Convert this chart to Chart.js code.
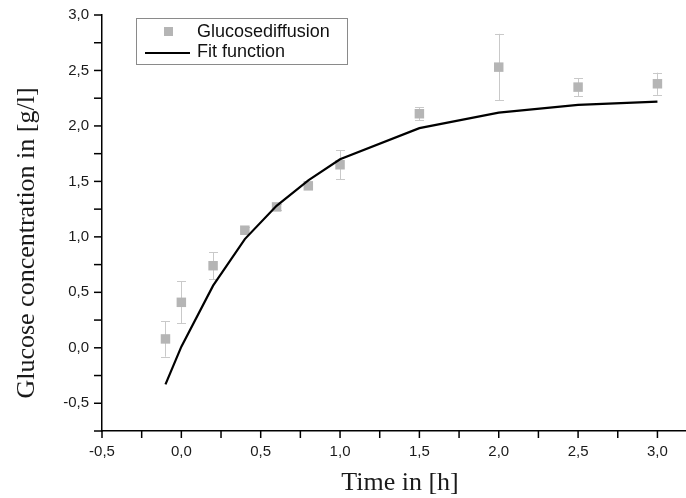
<!DOCTYPE html>
<html><head><meta charset="utf-8">
<script src="https://cdn.jsdelivr.net/npm/chart.js@4.4.0/dist/chart.umd.min.js"></script>
<style>html,body{margin:0;padding:0;background:#fff}</style>
</head><body>
<canvas id="c" width="686" height="498"></canvas>
<script>
// ---- data ----
const timeH      = [-0.1, 0.0, 0.2, 0.4, 0.6, 0.8, 1.0, 1.5, 2.0, 2.5, 3.0];
const glucose    = [0.08, 0.41, 0.74, 1.06, 1.27, 1.46, 1.65, 2.11, 2.53, 2.35, 2.38];
const glucoseErr = [0.16, 0.19, 0.12, 0.03, 0.03, 0.03, 0.13, 0.06, 0.30, 0.08, 0.10];
const fitTime    = [-0.1, 0.0, 0.2, 0.4, 0.6, 0.8, 1.0, 1.5, 2.0, 2.5, 3.0];
const fitValues  = [-0.33, 0.01, 0.56, 0.98, 1.28, 1.51, 1.70, 1.98, 2.12, 2.19, 2.22];
const xTickValues = [-0.5, 0.0, 0.5, 1.0, 1.5, 2.0, 2.5, 3.0];
const xTickLabels = ['-0,5','0,0','0,5','1,0','1,5','2,0','2,5','3,0'];
const yTickValues = [-0.5, 0.0, 0.5, 1.0, 1.5, 2.0, 2.5, 3.0];
const yTickLabels = ['-0,5','0,0','0,5','1,0','1,5','2,0','2,5','3,0'];
const seriesNames = ['Glucosediffusion', 'Fit function'];
const xTitle = 'Time in [h]';
const yTitle = 'Glucose concentration in [g/l]';

const near = (a, b) => Math.abs(a - b) < 1e-6;
const isQuarter = v => near(v * 4, Math.round(v * 4));
function labelFor(values, labels, v) {
  const i = values.findIndex(t => near(t, v));
  return i >= 0 ? labels[i] : '';
}

const pointColor = '#b5b5b5';
const errColor = '#c9c9c9';

const errorBars = {
  id: 'errorBars',
  beforeDatasetsDraw(chart) {
    const ctx = chart.ctx, xs = chart.scales.x, ys = chart.scales.y;
    ctx.save();
    ctx.strokeStyle = errColor; ctx.lineWidth = 1;
    timeH.forEach((t, i) => {
      const x = Math.round(xs.getPixelForValue(t)) + 0.5;
      const y1 = ys.getPixelForValue(glucose[i] + glucoseErr[i]);
      const y2 = ys.getPixelForValue(glucose[i] - glucoseErr[i]);
      ctx.beginPath();
      ctx.moveTo(x, y1); ctx.lineTo(x, y2);
      ctx.moveTo(x - 4.5, Math.round(y1) + 0.5); ctx.lineTo(x + 4.5, Math.round(y1) + 0.5);
      ctx.moveTo(x - 4.5, Math.round(y2) + 0.5); ctx.lineTo(x + 4.5, Math.round(y2) + 0.5);
      ctx.stroke();
    });
    ctx.restore();
  }
};

const tickMarks = {
  id: 'tickMarks',
  afterDraw(chart) {
    const ctx = chart.ctx, xs = chart.scales.x, ys = chart.scales.y, a = chart.chartArea;
    ctx.save();
    ctx.strokeStyle = '#000'; ctx.lineWidth = 1.5;
    xs.ticks.forEach(t => {
      const x = xs.getPixelForValue(t.value);
      const len = isQuarter(t.value * 2) ? 7 : 4;
      ctx.beginPath(); ctx.moveTo(x, a.bottom); ctx.lineTo(x, a.bottom + len); ctx.stroke();
    });
    ys.ticks.forEach(t => {
      const y = ys.getPixelForValue(t.value);
      const len = isQuarter(t.value * 2) ? 8 : 4;
      ctx.beginPath(); ctx.moveTo(a.left, y); ctx.lineTo(a.left - len, y); ctx.stroke();
    });
    ctx.restore();
  }
};

const titles = {
  id: 'titles',
  afterDraw(chart) {
    const ctx = chart.ctx;
    ctx.save();
    ctx.fillStyle = '#1a1a1a';
    ctx.font = '26px "Liberation Serif", "DejaVu Serif", serif';
    ctx.textAlign = 'center'; ctx.textBaseline = 'middle';
    ctx.fillText(xTitle, 400, 483);
    ctx.translate(27, 243);
    ctx.rotate(-Math.PI / 2);
    ctx.fillText(yTitle, 0, 0);
    ctx.restore();
  }
};

const boxLegend = {
  id: 'boxLegend',
  afterDraw(chart) {
    const ctx = chart.ctx;
    const ds = chart.data.datasets;
    const pts = ds.find(d => d.label === seriesNames[0]);
    const fit = ds.find(d => d.label === seriesNames[1]);
    ctx.save();
    ctx.strokeStyle = '#8a8a8a'; ctx.lineWidth = 1;
    ctx.strokeRect(136.5, 18.5, 211, 46);
    ctx.fillStyle = pts.backgroundColor;
    ctx.fillRect(164, 27, 9, 9);
    ctx.strokeStyle = fit.borderColor; ctx.lineWidth = fit.borderWidth;
    ctx.beginPath(); ctx.moveTo(145, 53); ctx.lineTo(190, 53); ctx.stroke();
    ctx.fillStyle = '#111';
    ctx.font = '18px "Liberation Sans", Arial, sans-serif';
    ctx.textAlign = 'left'; ctx.textBaseline = 'middle';
    ctx.fillText(pts.label, 197, 32);
    ctx.fillText(fit.label, 197, 52);
    ctx.restore();
  }
};

const tickFont = { family: '"Liberation Sans", Arial, sans-serif', size: 15 };

new Chart(document.getElementById('c'), {
  type: 'scatter',
  data: {
    datasets: [
      {
        label: seriesNames[1],
        type: 'line',
        data: fitTime.map((t, i) => ({ x: t, y: fitValues[i] })),
        borderColor: '#000', borderWidth: 2.2, pointRadius: 0, tension: 0, fill: false,
        order: 0
      },
      {
        label: seriesNames[0],
        data: timeH.map((t, i) => ({ x: t, y: glucose[i] })),
        pointStyle: 'rect', pointRadius: 6.7, pointHoverRadius: 6.7,
        backgroundColor: pointColor, borderColor: pointColor, borderWidth: 0,
        order: 1
      }
    ]
  },
  options: {
    responsive: false, animation: false, devicePixelRatio: 1,
    layout: { autoPadding: false, padding: { top: 15, right: 0, left: 0, bottom: 0 } },
    plugins: { legend: { display: false }, tooltip: { enabled: false } },
    scales: {
      x: {
        type: 'linear', min: -0.5, max: 3.18,
        afterBuildTicks: s => { s.ticks = s.ticks.filter(t => isQuarter(t.value)); },
        afterFit: s => { s.height = 67; s.paddingLeft = 0; s.paddingRight = 0; },
        ticks: {
          stepSize: 0.25, includeBounds: false, autoSkip: false, maxRotation: 0, padding: 12,
          color: '#1a1a1a', font: tickFont,
          callback: v => labelFor(xTickValues, xTickLabels, v)
        },
        grid: { display: true, drawOnChartArea: false, drawTicks: false },
        border: { display: true, color: '#000', width: 1.5 }
      },
      y: {
        type: 'linear', min: -0.75, max: 3.0,
        afterBuildTicks: s => { s.ticks = s.ticks.filter(t => isQuarter(t.value)); },
        afterFit: s => { s.width = 102; s.paddingTop = 0; s.paddingBottom = 0; },
        ticks: {
          stepSize: 0.25, includeBounds: false, autoSkip: false, padding: 13,
          color: '#1a1a1a', font: tickFont,
          callback: v => labelFor(yTickValues, yTickLabels, v)
        },
        grid: { display: true, drawOnChartArea: false, drawTicks: false },
        border: { display: true, color: '#000', width: 1.5 }
      }
    }
  },
  plugins: [errorBars, tickMarks, titles, boxLegend]
});
</script>
</body></html>
